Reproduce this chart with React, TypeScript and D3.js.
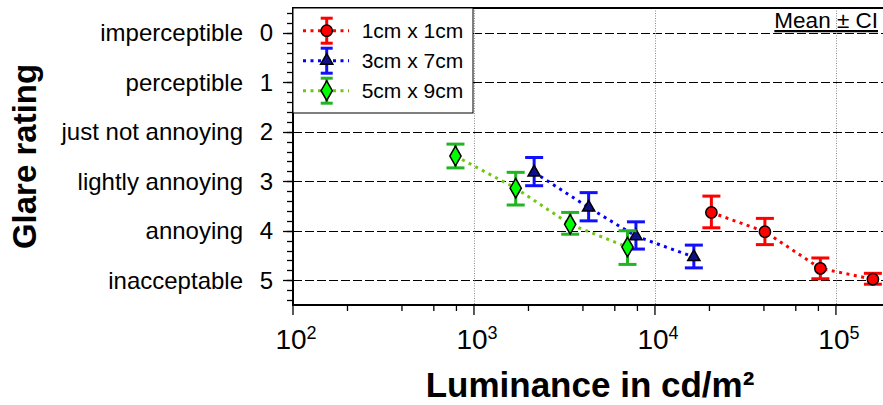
import React, { useEffect, useRef } from "react";
import * as d3 from "d3";

// luminance (cd/m²) and glare rating, mean with CI bounds
const redLum = [20500, 40500, 82000, 160000];
const redMean = [3.63, 4.02, 4.76, 4.98];
const redLow = [3.3, 3.75, 4.55, 4.86];
const redHigh = [3.94, 4.28, 4.97, 5.08];

const blueLum = [2150, 4300, 7850, 16400];
const blueMean = [2.82, 3.53, 4.11, 4.53];
const blueLow = [2.52, 3.23, 3.82, 4.29];
const blueHigh = [3.09, 3.8, 4.37, 4.75];

const greenLum = [790, 1700, 3400, 7050];
const greenMean = [2.49, 3.14, 3.87, 4.33];
const greenLow = [2.25, 2.82, 3.63, 4.0];
const greenHigh = [2.73, 3.48, 4.07, 4.68];

const seriesNames = ["1cm x 1cm", "3cm x 7cm", "5cm x 9cm"];
const ratingTicks = [0, 1, 2, 3, 4, 5];
const ratingLabels = [
  "imperceptible",
  "perceptible",
  "just not annoying",
  "lightly annoying",
  "annoying",
  "inacceptable",
];
const decadeTicks = [2, 3, 4, 5];

const FONT = "'Liberation Sans', Arial, sans-serif";

const drawChart = (node: SVGSVGElement) => {
  var width = 883;
  var height = 405;
  var left = 293;
  var top = 8;
  var right = 883;
  var bottom = 305;

  var svg = d3.select(node);
  svg.selectAll("*").remove();

  var x = d3.scaleLog().domain([100, Math.pow(10, 5.26)]).range([left, right]);
  var y = d3.scaleLinear().domain([-0.5, 5.5]).range([top, bottom]);

  svg.append("rect").attr("width", width).attr("height", height).attr("fill", "#fff");

  // grid
  svg
    .selectAll("line.hgrid")
    .data(ratingTicks)
    .enter()
    .append("line")
    .attr("x1", left)
    .attr("x2", right)
    .attr("y1", (d) => Math.round(y(d)) + 0.5)
    .attr("y2", (d) => Math.round(y(d)) + 0.5)
    .attr("stroke", "#000")
    .attr("stroke-width", 1)
    .attr("stroke-dasharray", "9,3");

  svg
    .selectAll("line.vgrid")
    .data([1000, 10000, 100000])
    .enter()
    .append("line")
    .attr("x1", (d) => Math.round(x(d)) + 0.5)
    .attr("x2", (d) => Math.round(x(d)) + 0.5)
    .attr("y1", top)
    .attr("y2", bottom)
    .attr("stroke", "#888")
    .attr("stroke-width", 1)
    .attr("stroke-dasharray", "1,1.5");

  // y axis ticks
  var minor = d3.range(-0.4, 5.41, 0.2);
  svg
    .selectAll("line.ymin")
    .data(minor)
    .enter()
    .append("line")
    .attr("x1", left - 6)
    .attr("x2", left)
    .attr("y1", (d) => Math.round(y(d)) + 0.5)
    .attr("y2", (d) => Math.round(y(d)) + 0.5)
    .attr("stroke", "#000")
    .attr("stroke-width", 1.3);
  svg
    .selectAll("line.ymaj")
    .data(ratingTicks)
    .enter()
    .append("line")
    .attr("x1", left - 10)
    .attr("x2", left)
    .attr("y1", (d) => Math.round(y(d)) + 0.5)
    .attr("y2", (d) => Math.round(y(d)) + 0.5)
    .attr("stroke", "#000")
    .attr("stroke-width", 1.3);

  svg
    .selectAll("text.ynum")
    .data(ratingTicks)
    .enter()
    .append("text")
    .attr("x", 273)
    .attr("y", (d) => y(d))
    .attr("dy", "0.36em")
    .attr("text-anchor", "end")
    .attr("font-family", FONT)
    .attr("font-size", 24)
    .text((d) => d);
  svg
    .selectAll("text.ylab")
    .data(ratingTicks)
    .enter()
    .append("text")
    .attr("x", 243)
    .attr("y", (d) => y(d))
    .attr("dy", "0.36em")
    .attr("text-anchor", "end")
    .attr("font-family", FONT)
    .attr("font-size", 24)
    .text((d, i) => ratingLabels[i]);

  // x axis ticks
  var xMinor: number[] = [];
  decadeTicks.forEach((e) => {
    [2, 4, 6, 8].forEach((m) => {
      var v = m * Math.pow(10, e);
      if (x(v) <= right) xMinor.push(v);
    });
  });
  svg
    .selectAll("line.xmin")
    .data(xMinor)
    .enter()
    .append("line")
    .attr("x1", (d) => x(d))
    .attr("x2", (d) => x(d))
    .attr("y1", bottom)
    .attr("y2", bottom + 6)
    .attr("stroke", "#000")
    .attr("stroke-width", 1.3);
  svg
    .selectAll("line.xmaj")
    .data(decadeTicks)
    .enter()
    .append("line")
    .attr("x1", (d) => x(Math.pow(10, d)))
    .attr("x2", (d) => x(Math.pow(10, d)))
    .attr("y1", bottom)
    .attr("y2", bottom + 10)
    .attr("stroke", "#000")
    .attr("stroke-width", 1.3);

  var xl = svg
    .selectAll("text.xlab")
    .data(decadeTicks)
    .enter()
    .append("text")
    .attr("x", (d) => x(Math.pow(10, d)) + 3)
    .attr("y", 349)
    .attr("text-anchor", "middle")
    .attr("font-family", FONT)
    .attr("font-size", 28);
  xl.append("tspan").text("10");
  xl.append("tspan")
    .attr("dy", -10)
    .attr("font-size", 18)
    .text((d) => d);

  // frame
  svg
    .append("path")
    .attr("d", `M${right},${top}H${left}V${bottom}H${right}`)
    .attr("fill", "none")
    .attr("stroke", "#000")
    .attr("stroke-width", 2);

  // titles
  svg
    .append("text")
    .attr("transform", `translate(36,${(top + bottom) / 2}) rotate(-90)`)
    .attr("text-anchor", "middle")
    .attr("font-family", FONT)
    .attr("font-weight", "bold")
    .attr("font-size", 33)
    .text("Glare rating");
  svg
    .append("text")
    .attr("x", 590)
    .attr("y", 397)
    .attr("text-anchor", "middle")
    .attr("font-family", FONT)
    .attr("font-weight", "bold")
    .attr("font-size", 35)
    .text("Luminance in cd/m²");

  svg
    .append("text")
    .attr("x", 878)
    .attr("y", 28)
    .attr("text-anchor", "end")
    .attr("font-family", FONT)
    .attr("font-size", 22.5)
    .attr("text-decoration", "underline")
    .text("Mean ± CI");

  // series
  var series = [
    { lum: redLum, mean: redMean, low: redLow, high: redHigh, line: "#ff0000", bar: "#ff0000", fill: "#ff0000", shape: d3.symbolCircle, size: 100 },
    { lum: blueLum, mean: blueMean, low: blueLow, high: blueHigh, line: "#0000ff", bar: "#1010ff", fill: "#10108a", shape: d3.symbolTriangle, size: 65 },
    { lum: greenLum, mean: greenMean, low: greenLow, high: greenHigh, line: "#70c810", bar: "#22b422", fill: "#00ff00", shape: d3.symbolDiamond, size: 110 },
  ];

  series.forEach((s) => {
    var pts = s.lum.map((l, i) => [x(l), y(s.mean[i])] as [number, number]);
    svg
      .append("path")
      .attr("d", d3.line()(pts))
      .attr("fill", "none")
      .attr("stroke", s.line)
      .attr("stroke-width", 3)
      .attr("stroke-dasharray", "3,4.5");
  });

  series.forEach((s) => {
    var g = svg.append("g");
    s.lum.forEach((l, i) => {
      var cx = x(l);
      g.append("line")
        .attr("x1", cx).attr("x2", cx)
        .attr("y1", y(s.low[i])).attr("y2", y(s.high[i]))
        .attr("stroke", s.bar).attr("stroke-width", 3);
      [s.low[i], s.high[i]].forEach((v) => {
        g.append("line")
          .attr("x1", cx - 9).attr("x2", cx + 9)
          .attr("y1", y(v)).attr("y2", y(v))
          .attr("stroke", s.bar).attr("stroke-width", 3);
      });
      g.append("path")
        .attr("d", d3.symbol().type(s.shape).size(s.size)())
        .attr("transform", `translate(${cx},${y(s.mean[i])})`)
        .attr("fill", s.fill)
        .attr("stroke", "#000")
        .attr("stroke-width", 1.5);
    });
  });

  // legend
  var lg = svg.append("g");
  lg.append("rect")
    .attr("x", left)
    .attr("y", top)
    .attr("width", 473 - left)
    .attr("height", 113 - top)
    .attr("fill", "#fff")
    .attr("stroke", "#000")
    .attr("stroke-width", 1);
  series.forEach((s, i) => {
    var ly = 30.7 + i * 30;
    var mx = 326.7;
    lg.append("line")
      .attr("x1", 303).attr("x2", 349)
      .attr("y1", ly).attr("y2", ly)
      .attr("stroke", s.line).attr("stroke-width", 3)
      .attr("stroke-dasharray", "3,4.5");
    lg.append("line")
      .attr("x1", mx).attr("x2", mx)
      .attr("y1", ly - 12.5).attr("y2", ly + 12.5)
      .attr("stroke", s.bar).attr("stroke-width", 3);
    [-12.5, 12.5].forEach((o) => {
      lg.append("line")
        .attr("x1", mx - 6).attr("x2", mx + 6)
        .attr("y1", ly + o).attr("y2", ly + o)
        .attr("stroke", s.bar).attr("stroke-width", 3);
    });
    lg.append("path")
      .attr("d", d3.symbol().type(s.shape).size(s.size)())
      .attr("transform", `translate(${mx},${ly})`)
      .attr("fill", s.fill)
      .attr("stroke", "#000")
      .attr("stroke-width", 1.5);
    lg.append("text")
      .attr("x", 361.7)
      .attr("y", ly)
      .attr("dy", "0.36em")
      .attr("font-family", FONT)
      .attr("font-size", 21)
      .text(seriesNames[i]);
  });
};

const App = () => {
  const ref = useRef<SVGSVGElement>(null);
  useEffect(() => {
    if (ref.current) drawChart(ref.current);
  });
  return (
    <svg
      ref={ref}
      width={883}
      height={405}
      style={{ position: "absolute", left: 0, top: 0 }}
    ></svg>
  );
};

export default App;
